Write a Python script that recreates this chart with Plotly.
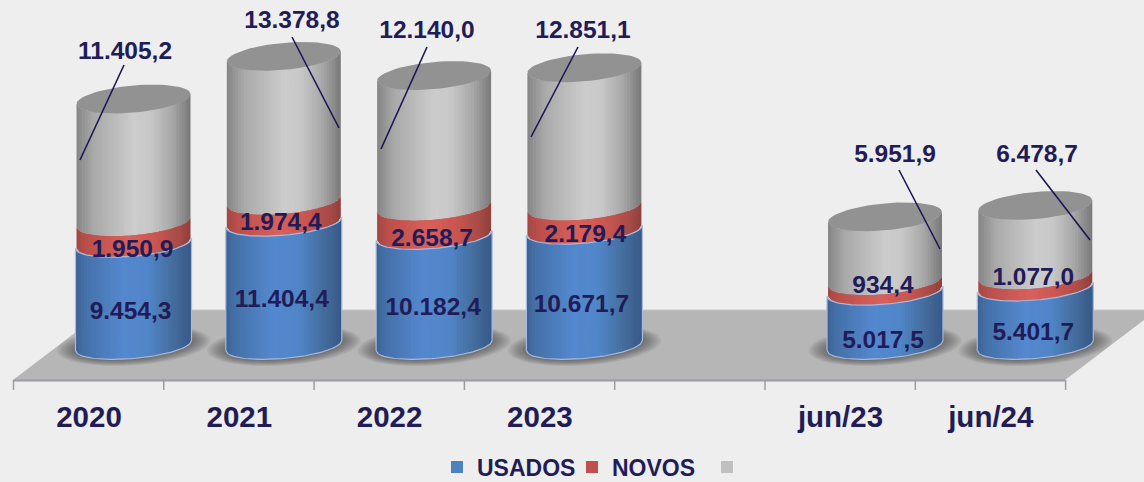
import math
import plotly.graph_objects as go

# ---- data ----
categories = ["2020", "2021", "2022", "2023", "jun/23", "jun/24"]
slots = [0, 1, 2, 3, 5, 6]
usados = [9454.3, 11404.4, 10182.4, 10671.7, 5017.5, 5401.7]
novos = [1950.9, 1974.4, 2658.7, 2179.4, 934.4, 1077.0]
totais = [11405.2, 13378.8, 12140.0, 12851.1, 5951.9, 6478.7]
series_names = ["USADOS", "NOVOS", " "]

# ---- styling / layout (pixels of the 1144x482 page) ----
W, H = 1144, 482
BOTTOM = 86
PLOT_H = H - BOTTOM
SLOT = 150.3
TICK0 = 89.0
BAR_SHIFT = 44.5
BASE_PX = 345.5
K = 0.010806          # px per unit
A = 57.0              # cylinder half width
B = 13.0              # ellipse half height
TILT = 5.0
TEXT = "#211C57"
BG = "#EEEEEE"
FONT = "Liberation Sans, Arial, sans-serif"

blue_stops = [(-1, "#3C6294"), (-.85, "#4470A8"), (-.2, "#5488CE"), (.25, "#5086C9"), (.65, "#456F9F"), (1, "#365887")]
red_stops = [(-1, "#A24743"), (-.8, "#BC4F4B"), (-.1, "#D9605B"), (.4, "#C95650"), (.8, "#A84A46"), (1, "#8E3F3C")]
gray_stops = [(-1, "#858585"), (-.7, "#A9A9A9"), (0, "#CCCCCC"), (.3, "#C8C8C8"), (.7, "#A5A5A5"), (1, "#787878")]
CAP = "#929292"
OUTLINE = "#A9B9DC"

usados_dy = [18, 17, 18.5, 18, 23.5, 18]
novos_dy = [18, 12, 19, 17, 1, -2]
usados_dx = [-3, -2, -1, -3, -2, -2]
novos_dx = [-1, -3, -2, 1, -2, -2]
total_px = [(125, 53), (292, 22), (427, 32), (583, 32), (895, 156), (1037, 156)]
leader_px = [((124, 65), (80, 160)), ((292, 37), (339, 128)), ((427, 47), (381, 149)),
             ((578, 47), (531, 137)), ((899, 170), (940, 249)), ((1036, 170), (1090, 240))]


def X(px):
    return (px - TICK0) / SLOT


def Yv(py):
    return (BASE_PX - py) / K


def paper_x(px):
    return px / W


def paper_y(py):
    return (PLOT_H - py) / PLOT_H


def hex_rgb(h):
    return tuple(int(h[i:i + 2], 16) for i in (1, 3, 5))


def shade(stops, u):
    for (u0, c0), (u1, c1) in zip(stops, stops[1:]):
        if u <= u1:
            f = (u - u0) / (u1 - u0)
            a, b = hex_rgb(c0), hex_rgb(c1)
            return "rgb(%d,%d,%d)" % tuple(round(a[i] + (b[i] - a[i]) * f) for i in range(3))
    return stops[-1][1]


def arc(u, front=1):
    """vertical pixel offset of the tilted ellipse at relative position u"""
    return -TILT * u + front * B * math.sqrt(max(0.0, 1 - u * u))


def fmt(v):
    return f"{v:,.1f}".replace(",", "#").replace(".", ",").replace("#", ".")


bar_x = [s + BAR_SHIFT / SLOT for s in slots]
fig = go.Figure()

# real stacked bars: narrower than the cylinder, they carry the data and the legend
for name, vals, col in zip(series_names, [usados, novos, totais], ["#4F81BD", "#C0504D", "#C0C0C0"]):
    fig.add_bar(x=bar_x, y=vals, name=name, width=0.6, marker=dict(color=col, line_width=0),
                hoverinfo="skip")

# floor shadow (soft: many faint ellipses)
for j in range(12):
    la = 77 - 1.7 * j
    lb = 20 - 0.55 * j
    xs, ys = [], []
    for bx in bar_x:
        for i in range(49):
            t = 2 * math.pi * i / 48
            xs.append(bx + la * math.cos(t) / SLOT)
            ys.append(-(-TILT * math.cos(t) + lb * math.sin(t) + 0) / K)
        xs.append(None)
        ys.append(None)
    fig.add_scatter(x=xs, y=ys, mode="lines", line_width=0, fill="toself",
                    fillcolor="rgba(40,40,40,0.05)", showlegend=False, hoverinfo="skip")

# shaded cylinder bodies, built from the stacked values
N = 40
stack = [
    (usados, [0] * 6, blue_stops, A + 1),
    (novos, usados, red_stops, A),
    (totais, [a + b for a, b in zip(usados, novos)], gray_stops, A),
]
for vals, base, stops, half in reversed(stack):
    for n in range(N):
        u0 = -1 + 2 * n / N
        u1 = -1 + 2 * (n + 1) / N
        xs, ys = [], []
        over = min(1.0, u1 + 0.7 / half)
        for bx, v, b0 in zip(bar_x, vals, base):
            x0 = bx + u0 * half / SLOT
            x1 = bx + over * half / SLOT
            xs += [x0, x1, x1, x0, x0, None]
            ys += [b0 - arc(u0) / K, b0 - arc(over) / K,
                   b0 + v - arc(over) / K, b0 + v - arc(u0) / K,
                   b0 - arc(u0) / K, None]
        fig.add_scatter(x=xs, y=ys, mode="lines", line_width=0, fill="toself",
                        fillcolor=shade(stops, (u0 + u1) / 2), showlegend=False, hoverinfo="skip")

# caps on top of the stack
xs, ys = [], []
for bx, a, b, c in zip(bar_x, usados, novos, totais):
    top = a + b + c
    for i in range(61):
        t = 2 * math.pi * i / 60
        xs.append(bx + A * math.cos(t) / SLOT)
        ys.append(top - (-TILT * math.cos(t) + 13.5 * math.sin(t)) / K)
    xs.append(None)
    ys.append(None)
fig.add_scatter(x=xs, y=ys, mode="lines", line_width=0, fill="toself", fillcolor=CAP,
                showlegend=False, hoverinfo="skip")

# pale outline of the blue segment
xs, ys = [], []
for bx, v in zip(bar_x, usados):
    us = [-1 + i / 30 for i in range(61)]
    xs += [bx + u * (A + 1) / SLOT for u in us]
    ys += [v - arc(u) / K for u in us]
    xs += [bx + u * (A + 1) / SLOT for u in reversed(us)]
    ys += [-arc(u) / K for u in reversed(us)]
    xs += [xs[-61 * 2], None]
    ys += [ys[-61 * 2], None]
fig.add_scatter(x=xs, y=ys, mode="lines", line=dict(color=OUTLINE, width=1.2),
                showlegend=False, hoverinfo="skip")

# leader lines
xs, ys = [], []
for (p0, p1) in leader_px:
    xs += [X(p0[0]), X(p1[0]), None]
    ys += [Yv(p0[1]), Yv(p1[1]), None]
fig.add_scatter(x=xs, y=ys, mode="lines", line=dict(color="#1B1757", width=1.6),
                showlegend=False, hoverinfo="skip")

# value labels
lab_x, lab_y, lab_t = [], [], []
for i, bx in enumerate(bar_x):
    lab_x.append(bx + usados_dx[i] / SLOT)
    lab_y.append(usados[i] / 2 - usados_dy[i] / K)
    lab_t.append(fmt(usados[i]))
    lab_x.append(bx + novos_dx[i] / SLOT)
    lab_y.append(usados[i] + novos[i] / 2 - novos_dy[i] / K)
    lab_t.append(fmt(novos[i]))
    lab_x.append(X(total_px[i][0]))
    lab_y.append(Yv(total_px[i][1]))
    lab_t.append(fmt(totais[i]))
fig.add_scatter(x=lab_x, y=lab_y, text=lab_t, mode="text", textposition="middle center",
                textfont=dict(family=FONT, size=24.5, color=TEXT, weight="bold"),
                showlegend=False, hoverinfo="skip", cliponaxis=False)

# floor and its tick marks
shapes = [dict(type="path", xref="paper", yref="paper", layer="below", line_width=0,
               fillcolor="#B6B6B6",
               path="M %f %f L %f %f L %f %f L %f %f Z" % (
                   paper_x(13), paper_y(380), paper_x(1065), paper_y(380),
                   paper_x(1157), paper_y(310), paper_x(105), paper_y(310)))]
shapes.append(dict(type="line", xref="paper", yref="paper", layer="below",
                   x0=paper_x(13), x1=paper_x(1065), y0=paper_y(380.5), y1=paper_y(380.5),
                   line=dict(color="#9C9CA4", width=2)))
shapes.append(dict(type="line", xref="paper", yref="paper", layer="below",
                   x0=paper_x(105), x1=paper_x(1157), y0=paper_y(310), y1=paper_y(310),
                   line=dict(color="#C9C9C9", width=1)))
for i in range(8):
    px = 13.5 + i * SLOT
    shapes.append(dict(type="line", xref="paper", yref="paper", layer="below",
                       x0=paper_x(px), x1=paper_x(px), y0=paper_y(380), y1=paper_y(390),
                       line=dict(color="#9C9CA4", width=1.5)))

fig.update_layout(
    width=W, height=H, margin=dict(l=0, r=0, t=0, b=BOTTOM, pad=0),
    barmode="stack", paper_bgcolor=BG, plot_bgcolor=BG, shapes=shapes,
    hovermode=False,
    xaxis=dict(range=[X(0), X(W)], tickmode="array", tickvals=slots, ticktext=categories,
               showgrid=False, zeroline=False, showline=False, ticks="", automargin=False,
               tickfont=dict(family=FONT, size=29.5, color=TEXT, weight="bold")),
    yaxis=dict(range=[Yv(PLOT_H), Yv(0)], visible=False, showgrid=False, zeroline=False),
    legend=dict(orientation="h", xanchor="left", x=437 / W, yref="container",
                yanchor="middle", y=(H - 467) / H,
                bgcolor="rgba(0,0,0,0)", traceorder="normal", entrywidth=90, entrywidthmode="pixels",
                font=dict(family=FONT, size=23, color=TEXT, weight="bold")),
    showlegend=True,
)
fig.write_html("out.html", config=dict(displayModeBar=False),
               post_script="document.body.style.margin='0';document.body.style.background='#EEEEEE';")
